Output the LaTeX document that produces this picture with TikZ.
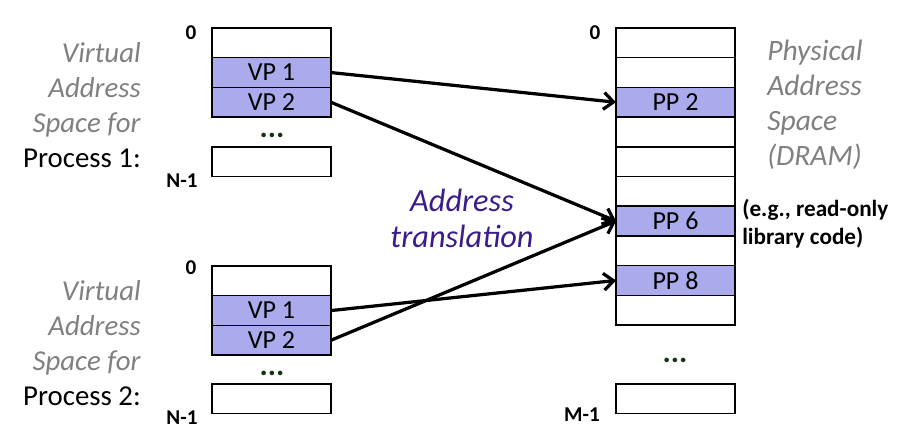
\documentclass[tikz,border=0pt]{standalone}
\usepackage{fontspec}
\setmainfont{Carlito}
\usetikzlibrary{arrows.meta,positioning}

\definecolor{pagefill}{RGB}{170,170,236}
\definecolor{transpurple}{RGB}{58,28,138}
\definecolor{labelgray}{RGB}{128,128,128}
\definecolor{dotgreen}{RGB}{20,52,20}

\newcommand{\grayit}[1]{\textcolor{labelgray}{\textit{#1}}}

\tikzset{
  page/.style={draw=black, line width=1.1pt, minimum width=2.975cm, minimum height=0.7425cm,
    inner sep=0pt, outer sep=0pt, font=\fontsize{18.5}{20}\selectfont},
  mapped/.style={page, fill=pagefill},
  bound/.style={inner sep=0pt, font=\bfseries\fontsize{15}{17}\selectfont},
  gap/.style={inner sep=0pt, text height=4pt, text depth=0pt, text=dotgreen,
    font=\bfseries\fontsize{22}{24}\selectfont},
  spacelabel/.style={inner sep=0pt, font=\fontsize{20.5}{24.9}\selectfont},
  map/.style={line width=2.3pt, -{Straight Barb[length=7pt,width=12pt]}}
}

\begin{document}
\begin{tikzpicture}[x=0.025cm,y=-0.025cm]
    \useasboundingbox (0,0) rectangle (910,439);

    % Virtueller Adressraum, Prozess 1
    \node[page, anchor=north west] (v1a) at (212,28) {};
    \node[mapped, below=0pt of v1a] (v1b) {VP 1};
    \node[mapped, below=0pt of v1b] (v1c) {VP 2};
    \node[gap] (v1dots) at (272,135) {...};
    \node[page, anchor=north west] (v1n) at (212,147) {};
    \node[bound] (v1zero) at (191,33) {0};
    \node[bound] (v1end) at (182,181) {N-1};
    \node[spacelabel, anchor=east, align=right] (space1) at (141,105)
        {\grayit{Virtual}\\\grayit{Address}\\\grayit{Space for}\\Process 1:};

    % Virtueller Adressraum, Prozess 2
    \node[page, anchor=north west] (v2a) at (212,266) {};
    \node[mapped, below=0pt of v2a] (v2b) {VP 1};
    \node[mapped, below=0pt of v2b] (v2c) {VP 2};
    \node[gap] (v2dots) at (272,373) {...};
    \node[page, anchor=north west] (v2n) at (212,384) {};
    \node[bound] (v2zero) at (191,268) {0};
    \node[bound] (v2end) at (182,418) {N-1};
    \node[spacelabel, anchor=east, align=right] (space2) at (141,343)
        {\grayit{Virtual}\\\grayit{Address}\\\grayit{Space for}\\Process 2:};

    % Physikalischer Speicher (DRAM)
    \foreach \i/\lab/\sty in {1//page, 2//page, 3/PP 2/mapped, 4//page, 5//page, 6//page,
                              7/PP 6/mapped, 8//page, 9/PP 8/mapped, 10//page}
        \node[\sty, anchor=north west] (p\i) at (616,{28+(\i-1)*29.7}) {\lab};
    \node[gap] (pdots) at (675,360) {...};
    \node[page, anchor=north west] (pn) at (616,384) {};
    \node[bound] (pzero) at (595,33) {0};
    \node[bound] (pend) at (582,415) {M-1};
    \node[spacelabel, anchor=west, align=left, text=labelgray, font=\itshape\fontsize{21}{24.9}\selectfont]
        (phys) at (767,105) {Physical\\Address\\Space\\(DRAM)};
    \node[inner sep=0pt, anchor=west, align=left, font=\bfseries\fontsize{16.5}{20}\selectfont]
        (shared) at (742,224) {(e.g., read-only\\library code)};

    % Abbildung
    \node[spacelabel, align=center, text=transpurple, font=\itshape\fontsize{23}{25.5}\selectfont]
        (trans) at (462,218) {Address\\translation};
    \draw[map] (v1b.east) -- (p3.west);
    \draw[map] (v1c.east) -- (p7.west);
    \draw[map] (v2b.east) -- (p9.west);
    \draw[map] (v2c.east) -- (p7.west);
\end{tikzpicture}
\end{document}
